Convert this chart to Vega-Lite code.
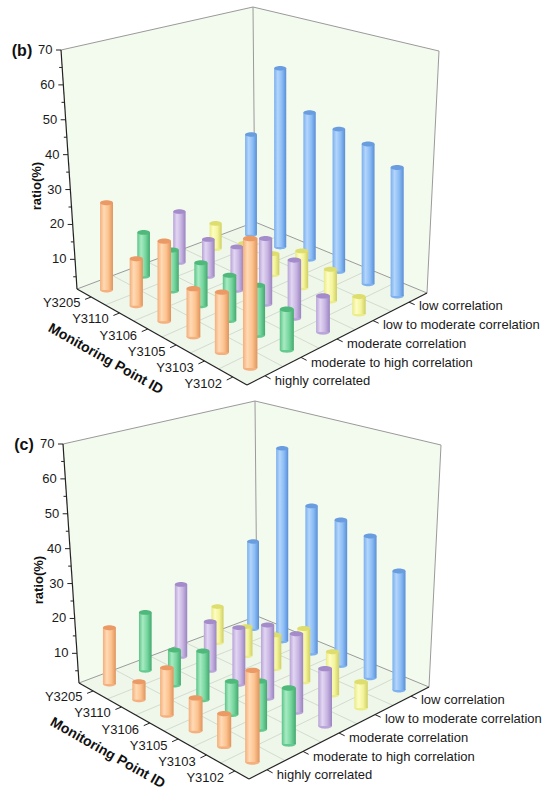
{
  "$schema": "https://vega.github.io/schema/vega-lite/v6.json",
  "width": 550,
  "height": 805,
  "autosize": "none",
  "padding": 0,
  "background": "#ffffff",
  "config": {"view": {"stroke": null}, "font": "Liberation Sans"},
  "datasets": {
    "ratios": [
      {"panel": "b", "point": "Y3205", "category": "highly correlated", "ratio": 26.5},
      {"panel": "b", "point": "Y3205", "category": "moderate to high correlation", "ratio": 14.3},
      {"panel": "b", "point": "Y3205", "category": "moderate correlation", "ratio": 16.7},
      {"panel": "b", "point": "Y3205", "category": "low to moderate correlation", "ratio": 9.2},
      {"panel": "b", "point": "Y3205", "category": "low correlation", "ratio": 32.8},
      {"panel": "b", "point": "Y3110", "category": "highly correlated", "ratio": 14.6},
      {"panel": "b", "point": "Y3110", "category": "moderate to high correlation", "ratio": 13.2},
      {"panel": "b", "point": "Y3110", "category": "moderate correlation", "ratio": 12.3},
      {"panel": "b", "point": "Y3110", "category": "low to moderate correlation", "ratio": 7.0},
      {"panel": "b", "point": "Y3110", "category": "low correlation", "ratio": 56.1},
      {"panel": "b", "point": "Y3106", "category": "highly correlated", "ratio": 23.4},
      {"panel": "b", "point": "Y3106", "category": "moderate to high correlation", "ratio": 13.5},
      {"panel": "b", "point": "Y3106", "category": "moderate correlation", "ratio": 13.9},
      {"panel": "b", "point": "Y3106", "category": "low to moderate correlation", "ratio": 7.7},
      {"panel": "b", "point": "Y3106", "category": "low correlation", "ratio": 45.4},
      {"panel": "b", "point": "Y3105", "category": "highly correlated", "ratio": 14.4},
      {"panel": "b", "point": "Y3105", "category": "moderate to high correlation", "ratio": 13.9},
      {"panel": "b", "point": "Y3105", "category": "moderate correlation", "ratio": 19.9},
      {"panel": "b", "point": "Y3105", "category": "low to moderate correlation", "ratio": 12.1},
      {"panel": "b", "point": "Y3105", "category": "low correlation", "ratio": 43.3},
      {"panel": "b", "point": "Y3103", "category": "highly correlated", "ratio": 17.3},
      {"panel": "b", "point": "Y3103", "category": "moderate to high correlation", "ratio": 14.9},
      {"panel": "b", "point": "Y3103", "category": "moderate correlation", "ratio": 17.4},
      {"panel": "b", "point": "Y3103", "category": "low to moderate correlation", "ratio": 10.4},
      {"panel": "b", "point": "Y3103", "category": "low correlation", "ratio": 41.7},
      {"panel": "b", "point": "Y3102", "category": "highly correlated", "ratio": 34.7},
      {"panel": "b", "point": "Y3102", "category": "moderate to high correlation", "ratio": 12.2},
      {"panel": "b", "point": "Y3102", "category": "moderate correlation", "ratio": 11.2},
      {"panel": "b", "point": "Y3102", "category": "low to moderate correlation", "ratio": 6.3},
      {"panel": "b", "point": "Y3102", "category": "low correlation", "ratio": 37.8},
      {"panel": "c", "point": "Y3205", "category": "highly correlated", "ratio": 17.6},
      {"panel": "c", "point": "Y3205", "category": "moderate to high correlation", "ratio": 18.4},
      {"panel": "c", "point": "Y3205", "category": "moderate correlation", "ratio": 23.0},
      {"panel": "c", "point": "Y3205", "category": "low to moderate correlation", "ratio": 12.5},
      {"panel": "c", "point": "Y3205", "category": "low correlation", "ratio": 28.7},
      {"panel": "c", "point": "Y3110", "category": "highly correlated", "ratio": 6.5},
      {"panel": "c", "point": "Y3110", "category": "moderate to high correlation", "ratio": 11.5},
      {"panel": "c", "point": "Y3110", "category": "moderate correlation", "ratio": 15.7},
      {"panel": "c", "point": "Y3110", "category": "low to moderate correlation", "ratio": 10.2},
      {"panel": "c", "point": "Y3110", "category": "low correlation", "ratio": 60.4},
      {"panel": "c", "point": "Y3106", "category": "highly correlated", "ratio": 14.5},
      {"panel": "c", "point": "Y3106", "category": "moderate to high correlation", "ratio": 15.1},
      {"panel": "c", "point": "Y3106", "category": "moderate correlation", "ratio": 17.7},
      {"panel": "c", "point": "Y3106", "category": "low to moderate correlation", "ratio": 11.4},
      {"panel": "c", "point": "Y3106", "category": "low correlation", "ratio": 45.6},
      {"panel": "c", "point": "Y3105", "category": "highly correlated", "ratio": 10.3},
      {"panel": "c", "point": "Y3105", "category": "moderate to high correlation", "ratio": 10.6},
      {"panel": "c", "point": "Y3105", "category": "moderate correlation", "ratio": 22.0},
      {"panel": "c", "point": "Y3105", "category": "low to moderate correlation", "ratio": 16.8},
      {"panel": "c", "point": "Y3105", "category": "low correlation", "ratio": 44.2},
      {"panel": "c", "point": "Y3103", "category": "highly correlated", "ratio": 10.1},
      {"panel": "c", "point": "Y3103", "category": "moderate to high correlation", "ratio": 14.4},
      {"panel": "c", "point": "Y3103", "category": "moderate correlation", "ratio": 23.0},
      {"panel": "c", "point": "Y3103", "category": "low to moderate correlation", "ratio": 13.6},
      {"panel": "c", "point": "Y3103", "category": "low correlation", "ratio": 42.3},
      {"panel": "c", "point": "Y3102", "category": "highly correlated", "ratio": 25.0},
      {"panel": "c", "point": "Y3102", "category": "moderate to high correlation", "ratio": 16.2},
      {"panel": "c", "point": "Y3102", "category": "moderate correlation", "ratio": 16.9},
      {"panel": "c", "point": "Y3102", "category": "low to moderate correlation", "ratio": 8.7},
      {"panel": "c", "point": "Y3102", "category": "low correlation", "ratio": 35.1}
    ],
    "scene": [
      {"kind": "face", "seg": "floor", "k": 0, "gi": 0, "gj": 0, "z": 1.5, "panel": ["b", "c"]},
      {"kind": "face", "seg": "floor", "k": 1, "gi": 6, "gj": 0, "z": 1.5, "panel": ["b", "c"]},
      {"kind": "face", "seg": "floor", "k": 2, "gi": 6, "gj": 5, "z": 1.5, "panel": ["b", "c"]},
      {"kind": "face", "seg": "floor", "k": 3, "gi": 0, "gj": 5, "z": 1.5, "panel": ["b", "c"]},
      {"kind": "face", "seg": "left wall", "k": 0, "gi": 0, "gj": 0, "z": 1.5, "panel": ["b", "c"]},
      {"kind": "face", "seg": "left wall", "k": 1, "gi": 0, "gj": 5, "z": 1.5, "panel": ["b", "c"]},
      {"kind": "face", "seg": "left wall", "k": 2, "gi": 0, "gj": 5, "z": 70, "panel": ["b", "c"]},
      {"kind": "face", "seg": "left wall", "k": 3, "gi": 0, "gj": 0, "z": 70, "panel": ["b", "c"]},
      {"kind": "face", "seg": "right wall", "k": 0, "gi": 0, "gj": 5, "z": 1.5, "panel": ["b", "c"]},
      {"kind": "face", "seg": "right wall", "k": 1, "gi": 6, "gj": 5, "z": 1.5, "panel": ["b", "c"]},
      {"kind": "face", "seg": "right wall", "k": 2, "gi": 6, "gj": 5, "z": 70, "panel": ["b", "c"]},
      {"kind": "face", "seg": "right wall", "k": 3, "gi": 0, "gj": 5, "z": 70, "panel": ["b", "c"]},
      {"kind": "grid", "seg": "g1", "k": 0, "gi": 1, "gj": 0, "z": 1.5, "panel": ["b", "c"]},
      {"kind": "grid", "seg": "g1", "k": 1, "gi": 1, "gj": 5, "z": 1.5, "panel": ["b", "c"]},
      {"kind": "grid", "seg": "g2", "k": 0, "gi": 2, "gj": 0, "z": 1.5, "panel": ["b", "c"]},
      {"kind": "grid", "seg": "g2", "k": 1, "gi": 2, "gj": 5, "z": 1.5, "panel": ["b", "c"]},
      {"kind": "grid", "seg": "g3", "k": 0, "gi": 3, "gj": 0, "z": 1.5, "panel": ["b", "c"]},
      {"kind": "grid", "seg": "g3", "k": 1, "gi": 3, "gj": 5, "z": 1.5, "panel": ["b", "c"]},
      {"kind": "grid", "seg": "g4", "k": 0, "gi": 4, "gj": 0, "z": 1.5, "panel": ["b", "c"]},
      {"kind": "grid", "seg": "g4", "k": 1, "gi": 4, "gj": 5, "z": 1.5, "panel": ["b", "c"]},
      {"kind": "grid", "seg": "g5", "k": 0, "gi": 5, "gj": 0, "z": 1.5, "panel": ["b", "c"]},
      {"kind": "grid", "seg": "g5", "k": 1, "gi": 5, "gj": 5, "z": 1.5, "panel": ["b", "c"]},
      {"kind": "grid", "seg": "h1", "k": 0, "gi": 0, "gj": 1, "z": 1.5, "panel": ["b", "c"]},
      {"kind": "grid", "seg": "h1", "k": 1, "gi": 6, "gj": 1, "z": 1.5, "panel": ["b", "c"]},
      {"kind": "grid", "seg": "h2", "k": 0, "gi": 0, "gj": 2, "z": 1.5, "panel": ["b", "c"]},
      {"kind": "grid", "seg": "h2", "k": 1, "gi": 6, "gj": 2, "z": 1.5, "panel": ["b", "c"]},
      {"kind": "grid", "seg": "h3", "k": 0, "gi": 0, "gj": 3, "z": 1.5, "panel": ["b", "c"]},
      {"kind": "grid", "seg": "h3", "k": 1, "gi": 6, "gj": 3, "z": 1.5, "panel": ["b", "c"]},
      {"kind": "grid", "seg": "h4", "k": 0, "gi": 0, "gj": 4, "z": 1.5, "panel": ["b", "c"]},
      {"kind": "grid", "seg": "h4", "k": 1, "gi": 6, "gj": 4, "z": 1.5, "panel": ["b", "c"]},
      {"kind": "edge", "seg": "e1", "k": 0, "gi": 0, "gj": 0, "z": 1.5, "panel": ["b", "c"]},
      {"kind": "edge", "seg": "e1", "k": 1, "gi": 0, "gj": 5, "z": 1.5, "panel": ["b", "c"]},
      {"kind": "edge", "seg": "e2", "k": 0, "gi": 0, "gj": 5, "z": 1.5, "panel": ["b", "c"]},
      {"kind": "edge", "seg": "e2", "k": 1, "gi": 6, "gj": 5, "z": 1.5, "panel": ["b", "c"]},
      {"kind": "edge", "seg": "e3", "k": 0, "gi": 0, "gj": 5, "z": 1.5, "panel": ["b", "c"]},
      {"kind": "edge", "seg": "e3", "k": 1, "gi": 0, "gj": 5, "z": 70, "panel": ["b", "c"]},
      {"kind": "edge", "seg": "e4", "k": 0, "gi": 0, "gj": 0, "z": 70, "panel": ["b", "c"]},
      {"kind": "edge", "seg": "e4", "k": 1, "gi": 0, "gj": 5, "z": 70, "panel": ["b", "c"]},
      {"kind": "edge", "seg": "e5", "k": 0, "gi": 0, "gj": 5, "z": 70, "panel": ["b", "c"]},
      {"kind": "edge", "seg": "e5", "k": 1, "gi": 6, "gj": 5, "z": 70, "panel": ["b", "c"]},
      {"kind": "edge", "seg": "e6", "k": 0, "gi": 6, "gj": 5, "z": 1.5, "panel": ["b", "c"]},
      {"kind": "edge", "seg": "e6", "k": 1, "gi": 6, "gj": 5, "z": 70, "panel": ["b", "c"]},
      {"kind": "axis", "seg": "a1", "k": 0, "gi": 0, "gj": 0, "z": 1.5, "panel": ["b", "c"]},
      {"kind": "axis", "seg": "a1", "k": 1, "gi": 0, "gj": 0, "z": 70, "panel": ["b", "c"]},
      {"kind": "axis", "seg": "a2", "k": 0, "gi": 0, "gj": 0, "z": 1.5, "panel": ["b", "c"]},
      {"kind": "axis", "seg": "a2", "k": 1, "gi": 6, "gj": 0, "z": 1.5, "panel": ["b", "c"]},
      {"kind": "axis", "seg": "a3", "k": 0, "gi": 6, "gj": 0, "z": 1.5, "panel": ["b", "c"]},
      {"kind": "axis", "seg": "a3", "k": 1, "gi": 6, "gj": 5, "z": 1.5, "panel": ["b", "c"]},
      {"kind": "tick", "seg": "t5", "k": 0, "gi": 0, "gj": 0, "z": 5, "panel": ["b", "c"]},
      {"kind": "tick", "seg": "t10", "k": 0, "gi": 0, "gj": 0, "z": 10, "panel": ["b", "c"]},
      {"kind": "tick", "seg": "t15", "k": 0, "gi": 0, "gj": 0, "z": 15, "panel": ["b", "c"]},
      {"kind": "tick", "seg": "t20", "k": 0, "gi": 0, "gj": 0, "z": 20, "panel": ["b", "c"]},
      {"kind": "tick", "seg": "t25", "k": 0, "gi": 0, "gj": 0, "z": 25, "panel": ["b", "c"]},
      {"kind": "tick", "seg": "t30", "k": 0, "gi": 0, "gj": 0, "z": 30, "panel": ["b", "c"]},
      {"kind": "tick", "seg": "t35", "k": 0, "gi": 0, "gj": 0, "z": 35, "panel": ["b", "c"]},
      {"kind": "tick", "seg": "t40", "k": 0, "gi": 0, "gj": 0, "z": 40, "panel": ["b", "c"]},
      {"kind": "tick", "seg": "t45", "k": 0, "gi": 0, "gj": 0, "z": 45, "panel": ["b", "c"]},
      {"kind": "tick", "seg": "t50", "k": 0, "gi": 0, "gj": 0, "z": 50, "panel": ["b", "c"]},
      {"kind": "tick", "seg": "t55", "k": 0, "gi": 0, "gj": 0, "z": 55, "panel": ["b", "c"]},
      {"kind": "tick", "seg": "t60", "k": 0, "gi": 0, "gj": 0, "z": 60, "panel": ["b", "c"]},
      {"kind": "tick", "seg": "t65", "k": 0, "gi": 0, "gj": 0, "z": 65, "panel": ["b", "c"]},
      {"kind": "tick", "seg": "t70", "k": 0, "gi": 0, "gj": 0, "z": 70, "panel": ["b", "c"]}
    ]
  },
  "encoding": {
    "x": {"field": "sx", "type": "quantitative", "scale": {"domain": [0, 550], "nice": false, "zero": false}, "axis": null},
    "y": {"field": "sy", "type": "quantitative", "scale": {"domain": [805, 0], "nice": false, "zero": false}, "axis": null}
  },
  "layer": [
    {
      "data": {"name": "scene"},
      "transform": [
        {"flatten": ["panel"]},
        {"calculate": "datum.gi / 6", "as": "u"},
        {"calculate": "datum.gj / 5", "as": "v"},
        {"calculate": "(datum.z - 1.5) / 68.5", "as": "t"},
        {"calculate": "datum.panel == 'c' ? 2 : 0", "as": "ox"},
        {"calculate": "datum.panel == 'c' ? 394 : 0", "as": "oy"},
        {"calculate": "datum.ox + 77 + 170*datum.u + 178*datum.v + 2*datum.u*datum.v + datum.t*(-16 + 13*datum.u + 14*datum.v + datum.u*datum.v)", "as": "sx"},
        {"calculate": "datum.oy + 289 + 96*datum.u - 67*datum.v - 25*datum.u*datum.v + datum.t*(-239 - 34*datum.u + 24*datum.v + 7*datum.u*datum.v)", "as": "sy"}
      ],
      "layer": [
        {
          "transform": [{"filter": "datum.kind == 'face' && datum.seg != 'floor'"}],
          "mark": {"type": "line", "fill": "#f3faee", "stroke": "#f3faee", "strokeWidth": 0},
          "encoding": {"detail": [{"field": "seg"}, {"field": "panel"}], "order": {"field": "k", "type": "quantitative"}}
        },
        {
          "transform": [{"filter": "datum.kind == 'face' && datum.seg == 'floor'"}],
          "mark": {"type": "line", "fill": "#eef7e9", "stroke": "#eef7e9", "strokeWidth": 0},
          "encoding": {"detail": [{"field": "seg"}, {"field": "panel"}], "order": {"field": "k", "type": "quantitative"}}
        },
        {
          "transform": [{"filter": "datum.kind == 'grid'"}],
          "mark": {"type": "line", "stroke": "#cdd3ca", "strokeWidth": 0.8},
          "encoding": {"detail": [{"field": "seg"}, {"field": "panel"}], "order": {"field": "k", "type": "quantitative"}}
        },
        {
          "transform": [{"filter": "datum.kind == 'edge'"}],
          "mark": {"type": "line", "stroke": "#9a9a9a", "strokeWidth": 1},
          "encoding": {"detail": [{"field": "seg"}, {"field": "panel"}], "order": {"field": "k", "type": "quantitative"}}
        },
        {
          "transform": [{"filter": "datum.kind == 'axis'"}],
          "mark": {"type": "line", "stroke": "#222222", "strokeWidth": 1.2},
          "encoding": {"detail": [{"field": "seg"}, {"field": "panel"}], "order": {"field": "k", "type": "quantitative"}}
        },
        {
          "transform": [
            {"filter": "datum.kind == 'tick'"},
            {"calculate": "datum.sx - (datum.z % 10 == 0 ? 5 : 3)", "as": "sx2"}
          ],
          "mark": {"type": "rule", "stroke": "#222222", "strokeWidth": 1},
          "encoding": {"x2": {"field": "sx2"}, "y2": {"field": "sy"}}
        },
        {
          "transform": [
            {"filter": "datum.kind == 'tick' && datum.z % 10 == 0"},
            {"calculate": "datum.sx - 8.5", "as": "lx"}
          ],
          "mark": {"type": "text", "align": "right", "baseline": "middle", "fontSize": 13, "color": "#1a1a1a"},
          "encoding": {"x": {"field": "lx", "type": "quantitative"}, "text": {"field": "z", "type": "quantitative"}}
        },
        {
          "transform": [
            {"filter": "datum.kind == 'tick' && datum.z == 70"},
            {"calculate": "datum.sx - 39", "as": "px"},
            {"calculate": "datum.sy + 1", "as": "py"},
            {"calculate": "'(' + datum.panel + ')'", "as": "lab"}
          ],
          "mark": {"type": "text", "align": "center", "baseline": "middle", "fontSize": 16, "fontWeight": "bold", "color": "#111111"},
          "encoding": {"x": {"field": "px", "type": "quantitative"}, "y": {"field": "py", "type": "quantitative"}, "text": {"field": "lab"}}
        },
        {
          "transform": [
            {"filter": "datum.kind == 'tick' && datum.z == 30"},
            {"calculate": "datum.sx - 33", "as": "rx"},
            {"calculate": "datum.sy - 3.5", "as": "ry"}
          ],
          "mark": {"type": "text", "text": "ratio(%)", "angle": 270, "align": "center", "baseline": "middle", "fontSize": 13, "fontWeight": "bold", "color": "#111111"},
          "encoding": {"x": {"field": "rx", "type": "quantitative"}, "y": {"field": "ry", "type": "quantitative"}}
        }
      ]
    },
    {
      "data": {"name": "ratios"},
      "transform": [
        {"calculate": "indexof(['Y3205','Y3110','Y3106','Y3105','Y3103','Y3102'], datum.point)", "as": "pi"},
        {"calculate": "indexof(['highly correlated','moderate to high correlation','moderate correlation','low to moderate correlation','low correlation'], datum.category)", "as": "ci"},
        {"calculate": "(datum.pi + 0.5) / 6", "as": "u"},
        {"calculate": "(datum.ci + 0.5) / 5", "as": "v"},
        {"calculate": "(datum.ratio - 1.5) / 68.5", "as": "t"},
        {"calculate": "datum.panel == 'c' ? 2 : 0", "as": "ox"},
        {"calculate": "datum.panel == 'c' ? 394 : 0", "as": "oy"},
        {"calculate": "datum.ox + 77 + 170*datum.u + 178*datum.v + 2*datum.u*datum.v", "as": "fx"},
        {"calculate": "datum.oy + 289 + 96*datum.u - 67*datum.v - 25*datum.u*datum.v", "as": "fy"},
        {"calculate": "-16 + 13*datum.u + 14*datum.v + datum.u*datum.v", "as": "hx"},
        {"calculate": "-239 - 34*datum.u + 24*datum.v + 7*datum.u*datum.v", "as": "hy"},
        {"calculate": "datum.fx + datum.t*datum.hx", "as": "sx"},
        {"calculate": "datum.fy + datum.t*datum.hy", "as": "sy"},
        {"calculate": "datum.fx + datum.t*datum.hx/2", "as": "xm"},
        {"calculate": "-0.027*datum.hy", "as": "w"},
        {"calculate": "datum.xm - datum.w", "as": "xl"},
        {"calculate": "datum.xm + datum.w", "as": "xr"},
        {"calculate": "4*datum.w*datum.w", "as": "cap"}
      ],
      "layer": [
        {
          "transform": [{"filter": "datum.category == 'low correlation'"}],
          "layer": [
            {"mark": {"type": "point", "shape": "M-1,0A1,0.38,0,1,1,1,0A1,0.38,0,1,1,-1,0Z", "filled": true, "fill": "#7fb1ee", "strokeWidth": 0, "opacity": 1},
             "encoding": {"x": {"field": "xm", "type": "quantitative"}, "y": {"field": "fy", "type": "quantitative"}, "size": {"field": "cap", "type": "quantitative", "scale": null}}},
            {"mark": {"type": "rect", "strokeWidth": 0, "fill": {"gradient": "linear", "x1": 0, "y1": 0, "x2": 1, "y2": 0, "stops": [{"offset": 0, "color": "#7aafee"}, {"offset": 0.3, "color": "#b3d5fb"}, {"offset": 0.65, "color": "#8abcf5"}, {"offset": 1, "color": "#5a8ed6"}]}},
             "encoding": {"x": {"field": "xl", "type": "quantitative"}, "x2": {"field": "xr"}, "y2": {"field": "fy"}}},
            {"mark": {"type": "point", "shape": "M-1,0A1,0.38,0,1,1,1,0A1,0.38,0,1,1,-1,0Z", "filled": true, "fill": "#6a9ddf", "strokeWidth": 0, "opacity": 1},
             "encoding": {"x": {"field": "xm", "type": "quantitative"}, "size": {"field": "cap", "type": "quantitative", "scale": null}}}
          ]
        },
        {
          "transform": [{"filter": "datum.category == 'low to moderate correlation'"}],
          "layer": [
            {"mark": {"type": "point", "shape": "M-1,0A1,0.38,0,1,1,1,0A1,0.38,0,1,1,-1,0Z", "filled": true, "fill": "#ecec8c", "strokeWidth": 0, "opacity": 1},
             "encoding": {"x": {"field": "xm", "type": "quantitative"}, "y": {"field": "fy", "type": "quantitative"}, "size": {"field": "cap", "type": "quantitative", "scale": null}}},
            {"mark": {"type": "rect", "strokeWidth": 0, "fill": {"gradient": "linear", "x1": 0, "y1": 0, "x2": 1, "y2": 0, "stops": [{"offset": 0, "color": "#eaea86"}, {"offset": 0.3, "color": "#fdfdc4"}, {"offset": 0.65, "color": "#f4f49c"}, {"offset": 1, "color": "#cfcf62"}]}},
             "encoding": {"x": {"field": "xl", "type": "quantitative"}, "x2": {"field": "xr"}, "y2": {"field": "fy"}}},
            {"mark": {"type": "point", "shape": "M-1,0A1,0.38,0,1,1,1,0A1,0.38,0,1,1,-1,0Z", "filled": true, "fill": "#dede6e", "strokeWidth": 0, "opacity": 1},
             "encoding": {"x": {"field": "xm", "type": "quantitative"}, "size": {"field": "cap", "type": "quantitative", "scale": null}}}
          ]
        },
        {
          "transform": [{"filter": "datum.category == 'moderate correlation'"}],
          "layer": [
            {"mark": {"type": "point", "shape": "M-1,0A1,0.38,0,1,1,1,0A1,0.38,0,1,1,-1,0Z", "filled": true, "fill": "#baa5da", "strokeWidth": 0, "opacity": 1},
             "encoding": {"x": {"field": "xm", "type": "quantitative"}, "y": {"field": "fy", "type": "quantitative"}, "size": {"field": "cap", "type": "quantitative", "scale": null}}},
            {"mark": {"type": "rect", "strokeWidth": 0, "fill": {"gradient": "linear", "x1": 0, "y1": 0, "x2": 1, "y2": 0, "stops": [{"offset": 0, "color": "#b8a3d8"}, {"offset": 0.3, "color": "#e2d6f2"}, {"offset": 0.65, "color": "#c7b4e2"}, {"offset": 1, "color": "#9a83bf"}]}},
             "encoding": {"x": {"field": "xl", "type": "quantitative"}, "x2": {"field": "xr"}, "y2": {"field": "fy"}}},
            {"mark": {"type": "point", "shape": "M-1,0A1,0.38,0,1,1,1,0A1,0.38,0,1,1,-1,0Z", "filled": true, "fill": "#a48bc9", "strokeWidth": 0, "opacity": 1},
             "encoding": {"x": {"field": "xm", "type": "quantitative"}, "size": {"field": "cap", "type": "quantitative", "scale": null}}}
          ]
        },
        {
          "transform": [{"filter": "datum.category == 'moderate to high correlation'"}],
          "layer": [
            {"mark": {"type": "point", "shape": "M-1,0A1,0.38,0,1,1,1,0A1,0.38,0,1,1,-1,0Z", "filled": true, "fill": "#66c98f", "strokeWidth": 0, "opacity": 1},
             "encoding": {"x": {"field": "xm", "type": "quantitative"}, "y": {"field": "fy", "type": "quantitative"}, "size": {"field": "cap", "type": "quantitative", "scale": null}}},
            {"mark": {"type": "rect", "strokeWidth": 0, "fill": {"gradient": "linear", "x1": 0, "y1": 0, "x2": 1, "y2": 0, "stops": [{"offset": 0, "color": "#5cc487"}, {"offset": 0.3, "color": "#a8ebc3"}, {"offset": 0.65, "color": "#76d69e"}, {"offset": 1, "color": "#43a96f"}]}},
             "encoding": {"x": {"field": "xl", "type": "quantitative"}, "x2": {"field": "xr"}, "y2": {"field": "fy"}}},
            {"mark": {"type": "point", "shape": "M-1,0A1,0.38,0,1,1,1,0A1,0.38,0,1,1,-1,0Z", "filled": true, "fill": "#4fb97b", "strokeWidth": 0, "opacity": 1},
             "encoding": {"x": {"field": "xm", "type": "quantitative"}, "size": {"field": "cap", "type": "quantitative", "scale": null}}}
          ]
        },
        {
          "transform": [{"filter": "datum.category == 'highly correlated'"}],
          "layer": [
            {"mark": {"type": "point", "shape": "M-1,0A1,0.38,0,1,1,1,0A1,0.38,0,1,1,-1,0Z", "filled": true, "fill": "#f4b07e", "strokeWidth": 0, "opacity": 1},
             "encoding": {"x": {"field": "xm", "type": "quantitative"}, "y": {"field": "fy", "type": "quantitative"}, "size": {"field": "cap", "type": "quantitative", "scale": null}}},
            {"mark": {"type": "rect", "strokeWidth": 0, "fill": {"gradient": "linear", "x1": 0, "y1": 0, "x2": 1, "y2": 0, "stops": [{"offset": 0, "color": "#f4ae7a"}, {"offset": 0.3, "color": "#ffdab5"}, {"offset": 0.65, "color": "#fcc28e"}, {"offset": 1, "color": "#e0935c"}]}},
             "encoding": {"x": {"field": "xl", "type": "quantitative"}, "x2": {"field": "xr"}, "y2": {"field": "fy"}}},
            {"mark": {"type": "point", "shape": "M-1,0A1,0.38,0,1,1,1,0A1,0.38,0,1,1,-1,0Z", "filled": true, "fill": "#eb9a66", "strokeWidth": 0, "opacity": 1},
             "encoding": {"x": {"field": "xm", "type": "quantitative"}, "size": {"field": "cap", "type": "quantitative", "scale": null}}}
          ]
        },
        {
          "transform": [
            {"filter": "datum.category == 'highly correlated'"},
            {"calculate": "datum.ox + 77 + 170*datum.u", "as": "ptx"},
            {"calculate": "datum.oy + 289 + 96*datum.u", "as": "pty"},
            {"calculate": "datum.ptx - 0.034*(178 + 2*datum.u)", "as": "pex"},
            {"calculate": "datum.pty + 0.034*(67 + 25*datum.u)", "as": "pey"},
            {"calculate": "datum.ptx - 0.06*(178 + 2*datum.u)", "as": "plx"},
            {"calculate": "datum.pty + 0.06*(67 + 25*datum.u) + 2", "as": "ply"}
          ],
          "layer": [
            {"mark": {"type": "rule", "stroke": "#222222", "strokeWidth": 1},
             "encoding": {"x": {"field": "ptx", "type": "quantitative"}, "y": {"field": "pty", "type": "quantitative"}, "x2": {"field": "pex"}, "y2": {"field": "pey"}}},
            {"mark": {"type": "text", "align": "right", "baseline": "middle", "fontSize": 13, "color": "#1a1a1a"},
             "encoding": {"x": {"field": "plx", "type": "quantitative"}, "y": {"field": "ply", "type": "quantitative"}, "text": {"field": "point"}}}
          ]
        },
        {
          "transform": [
            {"filter": "datum.point == 'Y3102'"},
            {"calculate": "datum.ox + 247 + 180*datum.v", "as": "ctx"},
            {"calculate": "datum.oy + 385 - 92*datum.v", "as": "cty"},
            {"calculate": "datum.ctx + 0.033*(170 + 2*datum.v)", "as": "cex"},
            {"calculate": "datum.cty + 0.033*(96 - 25*datum.v)", "as": "cey"},
            {"calculate": "datum.ctx + 0.058*(170 + 2*datum.v)", "as": "clx"},
            {"calculate": "datum.cty + 0.058*(96 - 25*datum.v)", "as": "cly"}
          ],
          "layer": [
            {"mark": {"type": "rule", "stroke": "#222222", "strokeWidth": 1},
             "encoding": {"x": {"field": "ctx", "type": "quantitative"}, "y": {"field": "cty", "type": "quantitative"}, "x2": {"field": "cex"}, "y2": {"field": "cey"}}},
            {"mark": {"type": "text", "align": "left", "baseline": "middle", "fontSize": 13, "color": "#1a1a1a"},
             "encoding": {"x": {"field": "clx", "type": "quantitative"}, "y": {"field": "cly", "type": "quantitative"}, "text": {"field": "category"}}}
          ]
        },
        {
          "transform": [
            {"filter": "datum.category == 'highly correlated'"},
            {"aggregate": [{"op": "mean", "field": "u", "as": "mu"}], "groupby": ["panel", "ox", "oy"]},
            {"calculate": "datum.mu - 0.0165", "as": "tu"},
            {"calculate": "datum.ox + 77 + 170*datum.tu - 0.3*(178 + 2*datum.tu)", "as": "tx"},
            {"calculate": "datum.oy + 289 + 96*datum.tu + 0.3*(67 + 25*datum.tu)", "as": "ty"}
          ],
          "mark": {"type": "text", "text": "Monitoring Point ID", "angle": 29.5, "align": "center", "baseline": "middle", "fontSize": 14, "fontWeight": "bold", "color": "#111111"},
          "encoding": {"x": {"field": "tx", "type": "quantitative"}, "y": {"field": "ty", "type": "quantitative"}}
        }
      ]
    }
  ]
}
